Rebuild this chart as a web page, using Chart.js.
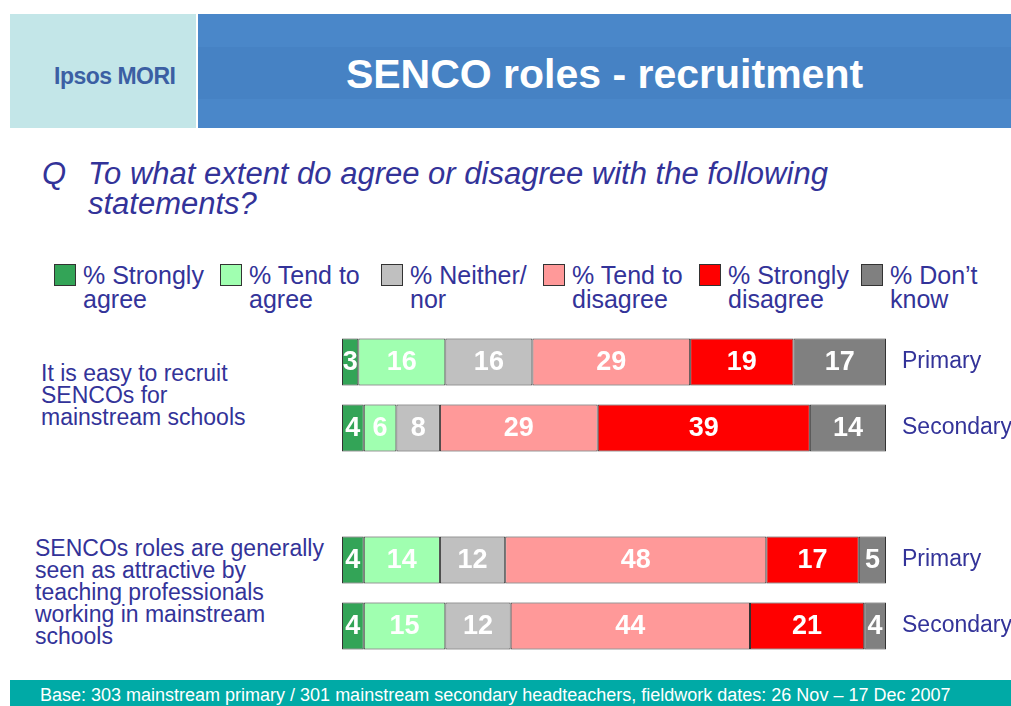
<!DOCTYPE html>
<html>
<head>
<meta charset="utf-8">
<script src="https://cdn.jsdelivr.net/npm/chart.js"></script>
<style>
  body { margin: 0; width: 1011px; height: 706px; background: #fff; position: relative; overflow: hidden;
         font-family: "Liberation Sans", Arial, sans-serif; }
  .abs { position: absolute; }
  #logoBox { left: 10px; top: 14px; width: 186px; height: 114px; background: #c3e6e8; }
  #logo { left: 54px; top: 63px; font-size: 23px; font-weight: bold; color: #3b5fa3; letter-spacing: -0.5px; }
  #titleBox { left: 198px; top: 14px; width: 813px; height: 114px; background: #4a87c9; }
  #titleBand { left: 198px; top: 47px; width: 813px; height: 52px; background: #4682c4; }
  #title { left: 198px; width: 813px; top: 51px; text-align: center; color: #fff; font-size: 41px; font-weight: bold; }
  .q { color: #333399; font-style: italic; font-size: 31px; line-height: 30px; }
  .leg { color: #333399; font-size: 25px; line-height: 24px; }
  .sw { width: 20px; height: 20px; border: 1px solid #333; }
  .stmt { color: #333399; font-size: 23px; line-height: 22px; }
  #footer { left: 10px; top: 680px; width: 1001px; height: 26px; background: #00aaa6; }
  #foot { left: 40px; top: 685px; color: #fff; font-size: 18px; }
  #chartWrap { left: 0; top: 329px; width: 1011px; height: 330px; }
</style>
</head>
<body>
<div class="abs" id="logoBox"></div>
<div class="abs" id="logo">Ipsos MORI</div>
<div class="abs" id="titleBox"></div>
<div class="abs" id="titleBand"></div>
<div class="abs" id="title">SENCO roles - recruitment</div>

<div class="abs q" style="left:42px;top:159px;">Q</div>
<div class="abs q" style="left:88px;top:159px;">To what extent do agree or disagree with the following<br>statements?</div>

<div id="legend"></div>

<div class="abs stmt" style="left:41px;top:362px;">It is easy to recruit<br>SENCOs for<br>mainstream schools</div>
<div class="abs stmt" style="left:35px;top:537px;">SENCOs roles are generally<br>seen as attractive by<br>teaching professionals<br>working in mainstream<br>schools</div>

<div class="abs" id="chartWrap"><canvas id="c"></canvas></div>

<div class="abs" id="footer"></div>
<div class="abs" id="foot">Base: 303 mainstream primary / 301 mainstream secondary headteachers, fieldwork dates: 26 Nov – 17 Dec 2007</div>

<script>
// rows: recruit-primary, recruit-secondary, (gap), attractive-primary, attractive-secondary
const rowLabels = ["Primary", "Secondary", "", "Primary", "Secondary"];
const stronglyAgree    = [3, 4, null, 4, 4];
const tendAgree        = [16, 6, null, 14, 15];
const neither          = [16, 8, null, 12, 12];
const tendDisagree     = [29, 29, null, 48, 44];
const stronglyDisagree = [19, 39, null, 17, 21];
const dontKnow         = [17, 14, null, 5, 4];

const seriesNames = ["% Strongly\nagree", "% Tend to\nagree", "% Neither/\nnor", "% Tend to\ndisagree", "% Strongly\ndisagree", "% Don\u2019t\nknow"];
const seriesColors = ["#33a457", "#a0ffb0", "#c0c0c0", "#ff9999", "#ff0000", "#808080"];
const seriesData = [stronglyAgree, tendAgree, neither, tendDisagree, stronglyDisagree, dontKnow];

// legend in html
const legX = [54, 220, 381, 543, 699, 861];
const legend = document.getElementById("legend");
seriesNames.forEach((name, i) => {
  const sw = document.createElement("div");
  sw.className = "abs sw";
  sw.style.left = legX[i] + "px";
  sw.style.top = "264px";
  sw.style.background = seriesColors[i];
  legend.appendChild(sw);
  const t = document.createElement("div");
  t.className = "abs leg";
  t.style.left = (legX[i] + 29) + "px";
  t.style.top = "263px";
  t.innerHTML = name.replace("\n", "<br>");
  legend.appendChild(t);
});

// values written in the middle of each segment
const barValues = {
  id: "barValues",
  afterDatasetsDraw(chart) {
    const ctx = chart.ctx;
    ctx.save();
    ctx.fillStyle = "#fff";
    ctx.font = "bold 27px 'Liberation Sans', Arial, sans-serif";
    ctx.textAlign = "center";
    ctx.textBaseline = "middle";
    chart.data.datasets.forEach((ds, di) => {
      chart.getDatasetMeta(di).data.forEach((bar, i) => {
        const v = ds.data[i];
        if (v == null) return;
        ctx.fillText(String(v), (bar.x + bar.base) / 2, bar.y + 1);
      });
    });
    ctx.restore();
  }
};

new Chart(document.getElementById("c"), {
  type: "bar",
  data: {
    labels: rowLabels,
    datasets: seriesData.map((d, i) => ({
      label: seriesNames[i],
      data: d,
      backgroundColor: seriesColors[i],
      borderColor: "#333",
      borderWidth: 1,
      borderSkipped: false,
      barPercentage: 0.71,
      categoryPercentage: 1
    }))
  },
  options: {
    indexAxis: "y",
    responsive: true,
    maintainAspectRatio: false,
    animation: false,
    layout: { padding: { left: 342, top: 0, bottom: 0, right: 0 } },
    plugins: { legend: { display: false }, tooltip: { enabled: false } },
    scales: {
      x: { stacked: true, min: 0, max: 100, display: false },
      y: {
        stacked: true,
        position: "right",
        grid: { display: false },
        border: { display: false },
        ticks: {
          color: "#333399",
          padding: 8,
          font: { size: 23, family: "'Liberation Sans', Arial, sans-serif" }
        },
        afterFit(scale) {
          scale.width = 125;
          scale.paddingTop = 0;
          scale.paddingBottom = 0;
        }
      }
    }
  },
  plugins: [barValues]
});
</script>
</body>
</html>
